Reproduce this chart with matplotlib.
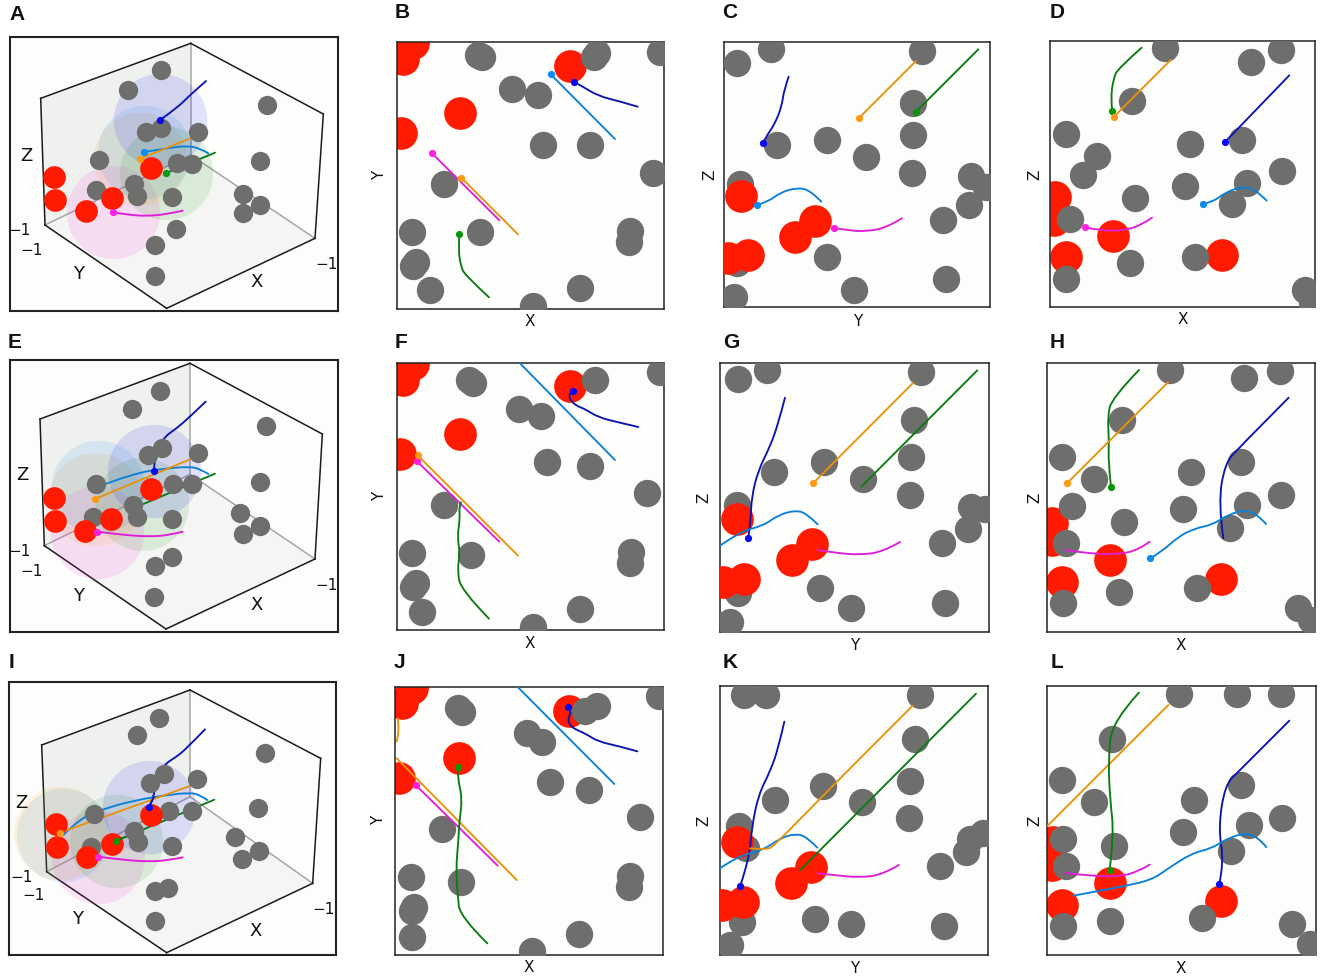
"""Twelve panel trajectory figure: one 3D-looking view and three projections per row."""

import matplotlib

matplotlib.use("Agg")

import matplotlib.pyplot as plt
from matplotlib.patches import PathPatch, Polygon
from matplotlib.path import Path

W, H = 1325, 980
PX_TO_PT = 0.72

# all coordinates below are in units of the 3x crops, relative to each panel's origin
A_GRAY = [(484, 210), (385, 270), (800, 315), (437, 397), (483, 385), (593, 395), (780, 483), (297, 480), (532, 488), (577, 491), (401, 552), (288, 569), (412, 588), (516, 590), (730, 582), (781, 614), (730, 638), (529, 687), (464, 735), (464, 827)]
A_RED = [(162, 531), (165, 599), (257, 632), (335, 594), (454, 505)]
A_HALOS = [("magenta", 338, 637), ("orange", 419, 477), ("lightblue", 433, 456), ("green", 499, 519), ("darkblue", 480, 360)]
A_TRAILS = [
    ("darkblue", [(480, 360), (530, 325), (570, 285), (618, 243)], True),
    ("lightblue", [(433, 456), (500, 445), (560, 437), (600, 445), (625, 460)], True),
    ("orange", [(419, 477), (570, 415)], True),
    ("green", [(499, 519), (645, 458)], True),
    ("magenta", [(338, 637), (390, 645), (440, 648), (500, 643), (548, 632)], True),
]
A_BOX = {"top": (572, 130), "lt": (122, 295), "lb": (135, 675), "bot": (500, 925), "rb": (945, 715), "rt": (970, 342), "mid": (572, 465)}
A_TEXT = [("Z", 80, 467, 13), ("\u22121", 60, 692, 11), ("\u22121", 95, 752, 11), ("Y", 235, 822, 13), ("X", 770, 845, 13), ("\u22121", 980, 793, 11)]

E_GRAY = [(481, 182), (397, 238), (799, 288), (443, 375), (486, 355), (593, 368), (780, 455), (288, 463), (519, 463), (575, 463), (400, 526), (279, 560), (412, 560), (516, 566), (719, 550), (781, 587), (730, 611), (517, 680), (464, 708), (463, 800)]
E_RED = [(162, 504), (164, 573), (255, 604), (334, 566), (452, 477)]
E_HALOS = [("magenta", 290, 607), ("orange", 285, 507), ("lightblue", 295, 470), ("green", 425, 522), ("darkblue", 463, 423)]
E_TRAILS = [
    ("darkblue", [(463, 423), (460, 400), (487, 325), (530, 295), (570, 260), (617, 215)], True),
    ("lightblue", [(295, 470), (400, 430), (500, 415), (570, 410), (600, 417), (625, 432)], False),
    ("orange", [(285, 507), (570, 388)], True),
    ("green", [(430, 522), (645, 431)], False),
    ("magenta", [(290, 605), (370, 615), (450, 620), (510, 615), (548, 605)], True),
]
E_BOX = {"top": (570, 100), "lt": (120, 267), "lb": (133, 647), "bot": (498, 897), "rb": (945, 687), "rt": (967, 312), "mid": (570, 433)}
E_TEXT = [("Z", 68, 435, 13), ("\u22121", 60, 665, 11), ("\u22121", 95, 725, 11), ("Y", 235, 797, 13), ("X", 770, 825, 13), ("\u22121", 980, 765, 11)]

I_GRAY = [(478, 190), (412, 240), (795, 293), (451, 385), (491, 358), (591, 373), (775, 458), (282, 478), (507, 469), (575, 467), (401, 527), (273, 577), (413, 562), (516, 572), (705, 547), (777, 588), (726, 611), (503, 698), (465, 708), (464, 797)]
I_RED = [(167, 506), (170, 575), (260, 605), (337, 568), (453, 480)]
I_HALOS = [("magenta", 295, 605), ("lightblue", 190, 540), ("orange", 180, 533), ("green", 347, 558), ("darkblue", 447, 457)]
I_TRAILS = [
    ("darkblue", [(447, 457), (465, 415), (462, 390), (490, 330), (530, 305), (560, 280), (615, 223)], True),
    ("lightblue", [(190, 540), (240, 490), (310, 462), (400, 437), (500, 420), (570, 413), (600, 420), (622, 435)], False),
    ("orange", [(180, 533), (570, 393)], True),
    ("green", [(347, 558), (643, 434)], True),
    ("magenta", [(295, 605), (370, 615), (450, 620), (510, 615), (548, 607)], True),
]
# short bits of track that lie in front of a red ball in panel I
I_OVER_RED = [("darkblue", [(447, 457), (462, 425)], False), ("green", [(347, 558), (375, 546)], False)]
I_BOX = {"top": (570, 105), "lt": (125, 270), "lb": (140, 650), "bot": (500, 893), "rb": (938, 685), "rt": (962, 310), "mid": (570, 425)}
I_TEXT = [("Z", 65, 443, 13), ("\u22121", 65, 667, 11), ("\u22121", 100, 722, 11), ("Y", 232, 792, 13), ("X", 768, 828, 13), ("\u22121", 972, 763, 11)]

B_GRAY = [(278, 165), (290, 172), (381, 266), (458, 285), (637, 160), (628, 172), (825, 155), (474, 436), (614, 435), (804, 518), (177, 553), (82, 695), (284, 696), (736, 692), (733, 725), (94, 785), (84, 797), (135, 871), (443, 917), (584, 865)]
B_RED = [(55, 178), (85, 130), (226, 340), (48, 399), (555, 198)]
B_TRAILS = [
    ("darkblue", [(566, 245), (590, 258), (640, 288), (700, 303), (758, 320)], True),
    ("lightblue", [(497, 223), (690, 417)], True),
    ("magenta", [(140, 459), (343, 661)], True),
    ("orange", [(229, 533), (399, 703)], True),
    ("green", [(223, 703), (220, 750), (228, 800), (240, 825), (312, 892)], True),
]

F_GRAY = [(252, 150), (265, 158), (403, 237), (467, 259), (629, 150), (825, 125), (485, 396), (615, 407), (787, 490), (177, 525), (81, 668), (259, 676), (737, 665), (735, 698), (92, 760), (83, 770), (112, 847), (443, 890), (585, 838)]
F_RED = [(55, 150), (85, 103), (225, 312), (45, 371), (555, 169)]
F_TRAILS = [
    ("darkblue", [(565, 183), (552, 190), (555, 210), (575, 228), (600, 237), (640, 262), (700, 277), (760, 291)], True),
    ("lightblue", [(403, 98), (690, 390)], False),
    ("magenta", [(95, 393), (343, 635)], True),
    ("orange", [(98, 376), (399, 677)], True),
    ("green", [(228, 517), (222, 530), (225, 565), (217, 620), (225, 670), (217, 720), (228, 780), (312, 866)], False),
]

J_GRAY = [(218, 160), (232, 172), (426, 233), (472, 260), (635, 152), (600, 168), (823, 123), (494, 380), (612, 405), (764, 487), (172, 523), (77, 667), (227, 682), (734, 664), (732, 696), (88, 757), (80, 768), (81, 847), (440, 888), (581, 837)]
J_RED = [(52, 145), (80, 100), (221, 310), (42, 369), (552, 167)]
J_TRAILS = [
    ("darkblue", [(548, 156), (560, 172), (548, 190), (555, 212), (575, 225), (600, 235), (640, 260), (700, 273), (757, 289)], True),
    ("lightblue", [(398, 96), (688, 387)], False),
    ("magenta", [(92, 390), (338, 632)], True),
    ("orange", [(38, 190), (44, 225), (35, 260)], False),
    ("orange", [(35, 310), (395, 675)], False),
    ("green", [(219, 337), (217, 365), (232, 430), (223, 500), (220, 560), (213, 640), (218, 720), (225, 785), (307, 865)], True),
]

C_GRAY = [(213, 147), (110, 190), (667, 153), (640, 308), (232, 435), (380, 421), (497, 471), (639, 406), (636, 518), (120, 553), (814, 527), (858, 560), (807, 616), (729, 659), (110, 790), (381, 771), (463, 870), (738, 837), (103, 892)]
C_RED = [(124, 588), (345, 662), (285, 710), (145, 765), (85, 773)]
C_TRAILS = [
    ("darkblue", [(188, 429), (205, 400), (225, 370), (245, 320), (252, 270), (266, 230)], True),
    ("lightblue", [(171, 615), (205, 605), (240, 578), (290, 563), (330, 570), (364, 605)], True),
    ("orange", [(478, 353), (648, 183)], True),
    ("green", [(647, 336), (835, 148)], True),
    ("magenta", [(403, 684), (450, 692), (500, 694), (560, 683), (606, 655)], True),
]

G_GRAY = [(200, 120), (113, 146), (662, 125), (641, 270), (222, 426), (371, 397), (489, 448), (633, 382), (630, 495), (110, 525), (813, 530), (855, 537), (803, 596), (725, 639), (113, 788), (360, 775), (454, 835), (734, 820), (90, 877)]
G_RED = [(110, 568), (335, 643), (275, 691), (131, 748), (68, 755)]
G_TRAILS = [
    ("darkblue", [(145, 623), (152, 570), (155, 500), (175, 420), (210, 350), (235, 280), (255, 203)], True),
    ("lightblue", [(60, 647), (120, 605), (190, 587), (235, 555), (285, 541), (320, 550), (353, 583)], False),
    ("orange", [(339, 460), (640, 158)], True),
    ("green", [(484, 470), (832, 121)], False),
    ("magenta", [(353, 660), (400, 668), (480, 675), (550, 665), (600, 636)], False),
]

K_GRAY = [(133, 120), (198, 120), (659, 120), (646, 253), (224, 436), (369, 393), (487, 442), (630, 377), (627, 490), (116, 513), (137, 578), (850, 533), (810, 553), (799, 591), (721, 634), (126, 800), (344, 792), (452, 808), (731, 814), (90, 870)]
K_RED = [(110, 562), (333, 637), (274, 685), (130, 741), (65, 750)]
K_TRAILS = [
    ("darkblue", [(121, 692), (148, 610), (155, 520), (175, 420), (210, 350), (235, 280), (253, 200)], True),
    ("lightblue", [(60, 640), (110, 605), (190, 585), (240, 550), (285, 536), (320, 545), (352, 578)], False),
    ("orange", [(150, 580), (200, 585), (225, 570), (370, 420), (638, 152)], False),
    ("green", [(300, 646), (828, 116)], False),
    ("magenta", [(352, 655), (400, 660), (480, 668), (550, 658), (597, 630)], False),
]

D_GRAY = [(419, 143), (768, 149), (679, 186), (322, 303), (122, 402), (216, 467), (174, 525), (494, 432), (650, 419), (770, 514), (480, 557), (665, 550), (620, 613), (330, 595), (134, 656), (511, 770), (316, 789), (123, 836), (839, 869), (862, 905)]
D_RED = [(90, 590), (88, 660), (264, 708), (122, 772), (592, 764)]
D_TRAILS = [
    ("darkblue", [(601, 425), (793, 226)], True),
    ("lightblue", [(533, 612), (565, 605), (600, 578), (650, 560), (690, 567), (725, 602)], True),
    ("green", [(262, 333), (257, 300), (265, 235), (280, 205), (350, 143)], True),
    ("orange", [(266, 351), (437, 180)], True),
    ("magenta", [(179, 682), (230, 692), (290, 692), (345, 678), (381, 653)], True),
]

H_GRAY = [(435, 120), (766, 124), (657, 145), (290, 270), (111, 381), (207, 447), (142, 529), (497, 425), (647, 397), (768, 495), (474, 537), (665, 525), (616, 595), (297, 577), (122, 638), (516, 773), (283, 787), (113, 819), (820, 834), (858, 870)]
H_RED = [(82, 578), (80, 630), (256, 690), (112, 757), (587, 747)]
H_TRAILS = [
    ("darkblue", [(595, 625), (580, 520), (600, 400), (640, 355), (791, 203)], False),
    ("lightblue", [(376, 685), (410, 665), (460, 620), (510, 595), (560, 585), (600, 560), (650, 540), (695, 550), (723, 582)], True),
    ("green", [(258, 470), (250, 400), (252, 330), (248, 260), (260, 205), (342, 120)], True),
    ("orange", [(127, 459), (429, 157)], True),
    ("magenta", [(120, 660), (200, 672), (280, 673), (340, 660), (374, 635)], False),
]

L_GRAY = [(462, 117), (636, 118), (768, 118), (262, 251), (112, 374), (207, 440), (648, 390), (508, 434), (770, 488), (671, 511), (475, 531), (115, 551), (268, 573), (617, 589), (122, 632), (254, 798), (113, 812), (530, 790), (800, 807), (855, 868)]
L_RED = [(85, 560), (80, 630), (256, 684), (112, 750), (587, 739)]
L_TRAILS = [
    ("orange", [(68, 512), (430, 150)], False),
    ("darkblue", [(583, 686), (597, 620), (580, 520), (600, 390), (640, 350), (793, 197)], True),
    ("lightblue", [(145, 722), (210, 710), (290, 695), (380, 675), (430, 640), (500, 595), (560, 580), (600, 555), (650, 535), (695, 542), (724, 576)], False),
    ("green", [(254, 644), (267, 540), (255, 430), (250, 320), (260, 200), (342, 113)], True),
    ("magenta", [(120, 654), (200, 663), (280, 665), (340, 650), (374, 629)], False),
]

LINE_COLORS = {"darkblue": "#0c14b0", "lightblue": "#0a80d8", "orange": "#e8920c", "green": "#0a7a14", "magenta": "#e01cd8"}
DOT_COLORS = {"darkblue": "#0808f0", "lightblue": "#0a8cf0", "orange": "#ff9a10", "green": "#0a960a", "magenta": "#ff20e0"}
GRAY = "#6e6f6c"
RED = "#ff1a00"
PANEL_BG = "#fdfefc"


def make_axes(fig, origin, frame, lw):
    ox, oy = origin
    x0, y0, x1, y1 = frame
    left = (ox + x0 / 3) / W
    bottom = 1 - (oy + y1 / 3) / H
    ax = fig.add_axes([left, bottom, (x1 - x0) / 3 / W, (y1 - y0) / 3 / H])
    ax.set_xlim(x0, x1)
    ax.set_ylim(y1, y0)
    ax.set_xticks([])
    ax.set_yticks([])
    ax.set_facecolor(PANEL_BG)
    for spine in ax.spines.values():
        spine.set_linewidth(lw)
        spine.set_color("#222222")
    return ax


def scatter_circles(ax, points, radius, color, zorder):
    size = (2 * radius / 3 * PX_TO_PT) ** 2
    ax.scatter([p[0] for p in points], [p[1] for p in points], s=size, color=color, linewidths=0, zorder=zorder)


def curve_path(points):
    # quadratic segments with the read points as control points, so tracks stay smooth
    if len(points) < 3:
        return Path(points)
    verts = [points[0]]
    codes = [Path.MOVETO]
    for i in range(1, len(points) - 1):
        if i == len(points) - 2:
            end = points[i + 1]
        else:
            end = ((points[i][0] + points[i + 1][0]) / 2, (points[i][1] + points[i + 1][1]) / 2)
        verts += [points[i], end]
        codes += [Path.CURVE3, Path.CURVE3]
    return Path(verts, codes)


def draw_trails(ax, trails, line_z=6, dot_z=7):
    for name, points, has_dot in trails:
        patch = PathPatch(curve_path(points), facecolor="none", edgecolor=LINE_COLORS[name], lw=1.35, zorder=line_z, capstyle="round")
        ax.add_patch(patch)
        if has_dot:
            ax.plot(points[0][0], points[0][1], "o", color=DOT_COLORS[name], ms=5.2, mew=0, zorder=dot_z)


def draw_flat(fig, origin, frame, gray, red, trails, red_on_top):
    ax = make_axes(fig, origin, frame, 1.1)
    scatter_circles(ax, gray, 41, GRAY, 3)
    scatter_circles(ax, red, 49, RED, 4 if red_on_top else 2)
    draw_trails(ax, trails)


def draw_box(fig, origin, frame, gray, red, halos, trails, box, labels, over_red=()):
    ax = make_axes(fig, origin, frame, 1.5)
    walls = [
        (("lt", "top", "mid", "lb"), "#eff1ef"),
        (("lb", "mid", "rb", "bot"), "#f5f6f4"),
    ]
    for corners, color in walls:
        ax.add_patch(Polygon([box[c] for c in corners], closed=True, facecolor=color, edgecolor="none", zorder=0))
    for a, b in [("top", "mid"), ("mid", "lb"), ("mid", "rb")]:
        ax.plot([box[a][0], box[b][0]], [box[a][1], box[b][1]], color="#a6a6a6", lw=1.1, zorder=1)
    for a, b in [("lb", "lt"), ("lt", "top"), ("top", "rt"), ("rt", "rb"), ("rb", "bot"), ("bot", "lb")]:
        ax.plot([box[a][0], box[b][0]], [box[a][1], box[b][1]], color="#1a1a1a", lw=1.1, zorder=1)
    for name, x, y in halos:
        scatter_circles(ax, [(x, y)], 140, DOT_COLORS[name] + "1e", 2)
    draw_trails(ax, trails, line_z=2.5)
    scatter_circles(ax, gray, 29, GRAY, 3)
    scatter_circles(ax, red, 34, RED, 4)
    draw_trails(ax, over_red, line_z=5)
    for text, x, y, size in labels:
        ax.text(x, y, text, ha="center", va="center", fontsize=size, color="#111111", zorder=9, clip_on=False)


fig = plt.figure(figsize=(W / 100, H / 100), dpi=100, facecolor="white")
plt.rcParams["font.family"] = "DejaVu Sans"

draw_box(fig, (0, 0), (30, 112, 1013, 932), A_GRAY, A_RED, A_HALOS, A_TRAILS, A_BOX, A_TEXT)
draw_box(fig, (0, 330), (30, 90, 1013, 905), E_GRAY, E_RED, E_HALOS, E_TRAILS, E_BOX, E_TEXT)
draw_box(fig, (0, 655), (27, 82, 1008, 900), I_GRAY, I_RED, I_HALOS, I_TRAILS, I_BOX, I_TEXT, I_OVER_RED)

draw_flat(fig, (385, 0), (36, 126, 837, 927), B_GRAY, B_RED, B_TRAILS, False)
draw_flat(fig, (385, 330), (35, 98, 838, 901), F_GRAY, F_RED, F_TRAILS, False)
draw_flat(fig, (385, 655), (31, 96, 835, 900), J_GRAY, J_RED, J_TRAILS, False)
draw_flat(fig, (700, 0), (73, 126, 870, 921), C_GRAY, C_RED, C_TRAILS, True)
draw_flat(fig, (700, 330), (60, 98, 867, 906), G_GRAY, G_RED, G_TRAILS, True)
draw_flat(fig, (700, 655), (60, 94, 863, 900), K_GRAY, K_RED, K_TRAILS, True)
draw_flat(fig, (1025, 0), (76, 123, 871, 921), D_GRAY, D_RED, D_TRAILS, False)
draw_flat(fig, (1025, 330), (65, 98, 870, 907), H_GRAY, H_RED, H_TRAILS, False)
draw_flat(fig, (1025, 655), (65, 92, 872, 900), L_GRAY, L_RED, L_TRAILS, False)

PANEL_LETTERS = [("A", 17, 14), ("E", 15, 343), ("I", 11, 662), ("B", 402, 13), ("F", 401, 342), ("J", 399, 662), ("C", 730, 13), ("G", 731, 343), ("K", 730, 663), ("D", 1057, 13), ("H", 1057, 343), ("L", 1057, 662)]
AXIS_LABELS = [("X", 530, 322, 0), ("Y", 380, 175, 90), ("X", 530, 644, 0), ("Y", 380, 496, 90), ("X", 529, 967, 0), ("Y", 379, 820, 90), ("Y", 858, 321, 0), ("Z", 710, 175, 90), ("Y", 855, 645, 0), ("Z", 704, 498, 90), ("Y", 855, 968, 0), ("Z", 704, 821, 90), ("X", 1183, 320, 0), ("Z", 1035, 175, 90), ("X", 1181, 645, 0), ("Z", 1035, 498, 90), ("X", 1181, 968, 0), ("Z", 1035, 821, 90)]

for letter, x, y in PANEL_LETTERS:
    fig.text(x / W, 1 - y / H, letter, ha="center", va="center", fontsize=15, fontweight="bold", family="Liberation Sans", color="#111111")
for text, x, y, angle in AXIS_LABELS:
    fig.text(x / W, 1 - y / H, text, ha="center", va="center", rotation=angle, fontsize=11, color="#111111")

fig.savefig("out.png", dpi=100, facecolor="white")
plt.close(fig)
